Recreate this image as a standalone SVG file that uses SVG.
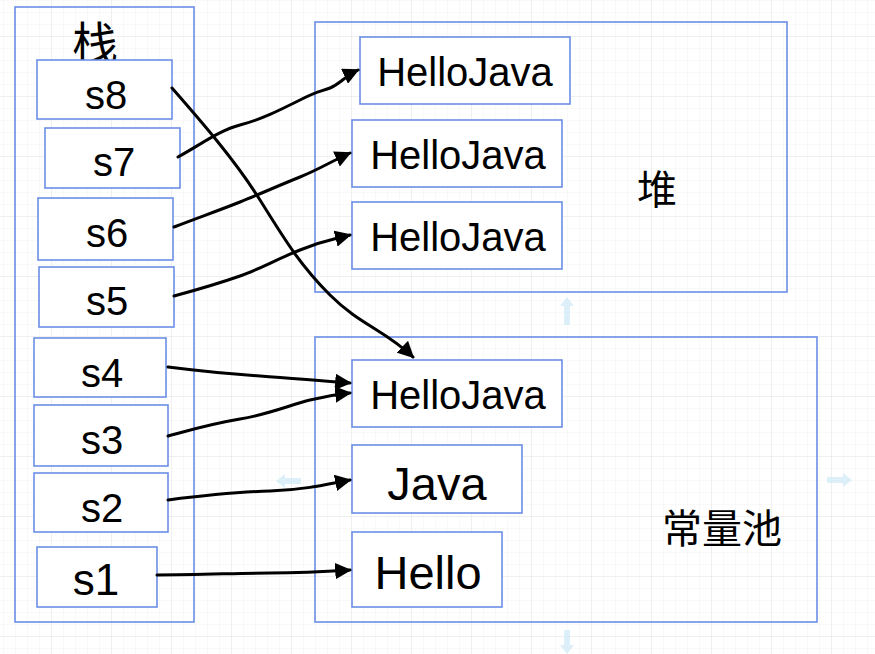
<svg xmlns="http://www.w3.org/2000/svg" width="875" height="654" viewBox="0 0 875 654">
<defs>
<pattern id="minor" width="12" height="12" patternUnits="userSpaceOnUse" x="-8" y="-23">
<path d="M12 0V12M0 12H12" fill="none" stroke="#f2f2f2" stroke-width="1"/>
</pattern>
<pattern id="major" width="60" height="60" patternUnits="userSpaceOnUse" x="-8" y="-23">
<path d="M60 0V60M0 60H60" fill="none" stroke="#e4e4e4" stroke-width="1"/>
</pattern>
<marker id="ah" viewBox="0 0 10 10" refX="9" refY="5" markerWidth="5.5" markerHeight="5.5" orient="auto" markerUnits="strokeWidth">
<path d="M0 0L10 5L0 10z" fill="#000"/>
</marker>
<style>
.box{fill:#fff;stroke:#6b8ee6;stroke-width:1.6}
.cont{fill:none;stroke:#6b8ee6;stroke-width:1.6}
.t{font-family:"Liberation Sans",Arial,sans-serif;fill:#000;text-anchor:middle;dominant-baseline:central}
.c{font-family:"Noto Sans CJK SC",sans-serif;fill:#000;text-anchor:middle;dominant-baseline:central}
.a{fill:none;stroke:#000;stroke-width:3;stroke-linecap:round;stroke-linejoin:round;marker-end:url(#ah)}
.ghost{fill:#cfe8f7;opacity:0.7}
</style>
</defs>
<rect width="875" height="654" fill="#fff"/>
<rect width="875" height="654" fill="url(#minor)"/>
<rect width="875" height="654" fill="url(#major)"/>

<g id="ghosts">
<path class="ghost" d="M567 297l-7 9h4v19h6v-19h4z"/>
<path class="ghost" d="M567 654l-7 -9h4v-15h6v15h4z"/>
<path class="ghost" d="M852 480l-9 -7v4h-16v6h16v4z"/>
<path class="ghost" d="M276 481l9 -7v4h16v6h-16v4z"/>
</g>

<g id="stack">
<rect class="cont" x="15" y="7" width="179" height="615" fill="#fff"/>
<text class="c" x="95" y="40" font-size="46">栈</text>
</g>
<g id="s8"><rect class="box" x="37" y="60" width="135" height="59"/><text class="t" x="106" y="95" font-size="40">s8</text></g>
<g id="s7"><rect class="box" x="45" y="128" width="135" height="60"/><text class="t" x="114" y="162" font-size="40">s7</text></g>
<g id="s6"><rect class="box" x="38" y="198" width="135" height="62"/><text class="t" x="107" y="233" font-size="40">s6</text></g>
<g id="s5"><rect class="box" x="39" y="267" width="135" height="60"/><text class="t" x="107" y="301" font-size="40">s5</text></g>
<g id="s4"><rect class="box" x="34" y="338" width="132" height="59"/><text class="t" x="102" y="373" font-size="40">s4</text></g>
<g id="s3"><rect class="box" x="34" y="405" width="134" height="61"/><text class="t" x="102" y="440" font-size="40">s3</text></g>
<g id="s2"><rect class="box" x="34" y="473" width="134" height="59"/><text class="t" x="102" y="508" font-size="40">s2</text></g>
<g id="s1"><rect class="box" x="37" y="547" width="120" height="60"/><text class="t" x="96" y="579" font-size="44">s1</text></g>

<g id="heap">
<rect class="cont" x="315" y="22" width="472" height="270" fill="#fff"/>
<text class="c" x="657" y="187" font-size="40">堆</text>
</g>
<g id="heap1"><rect class="box" x="360" y="37" width="210" height="67"/><text class="t" x="465" y="72" font-size="40">HelloJava</text></g>
<g id="heap2"><rect class="box" x="352" y="120" width="210" height="67"/><text class="t" x="458" y="155" font-size="40">HelloJava</text></g>
<g id="heap3"><rect class="box" x="352" y="202" width="210" height="67"/><text class="t" x="458" y="237" font-size="40">HelloJava</text></g>

<g id="pool">
<rect class="cont" x="315" y="337" width="502" height="285" fill="#fff"/>
<text class="c" x="722" y="526" font-size="40">常量池</text>
</g>
<g id="pool-hellojava"><rect class="box" x="352" y="360" width="210" height="67"/><text class="t" x="458" y="395" font-size="40">HelloJava</text></g>
<g id="pool-java"><rect class="box" x="352" y="445" width="170" height="68"/><text class="t" x="437" y="483" font-size="47">Java</text></g>
<g id="pool-hello"><rect class="box" x="352" y="532" width="150" height="75"/><text class="t" x="428" y="572" font-size="47">Hello</text></g>

<g id="connectors">
<path class="a" d="M172 88C200 120 235 160 260 200S300 265 330 295S385 330 413 357"/>
<path class="a" d="M178 157C200 145 220 130 240 125S280 110 300 100S320 92 330 88S345 76 358 70"/>
<path class="a" d="M174 227C200 217 220 210 240 202S280 185 300 177S330 162 350 153"/>
<path class="a" d="M174 296C200 289 220 283 240 276S275 260 300 250S330 240 350 235"/>
<path class="a" d="M168 367C200 371 230 374 260 376S310 380 350 383"/>
<path class="a" d="M168 436C190 430 210 424 240 419S290 405 310 400S340 394 350 393"/>
<path class="a" d="M168 500C200 496 240 492 270 491S320 486 350 480"/>
<path class="a" d="M157 575C200 575 240 573 270 573S320 572 350 570"/>
</g>
</svg>
